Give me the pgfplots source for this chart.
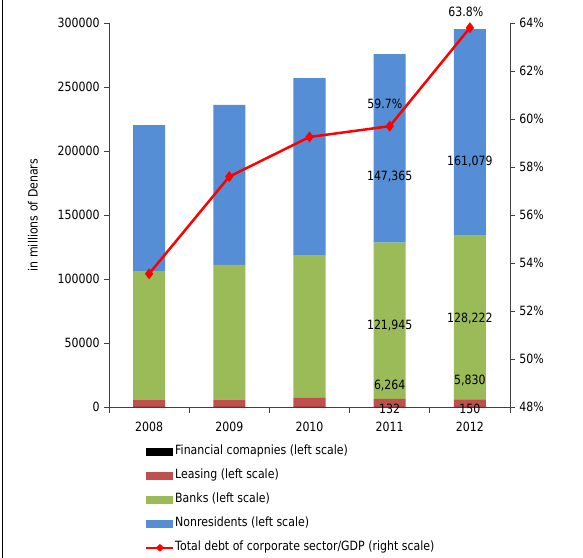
\documentclass[border=0pt]{standalone}
\usepackage{fontspec}
\setmainfont{DejaVu Sans}[FakeStretch=0.86]
\usepackage{pgfplots}
\pgfplotsset{compat=1.18}
\definecolor{cBlue}{HTML}{558ED5}
\definecolor{cGreen}{HTML}{9BBB59}
\definecolor{cRed}{HTML}{C0504D}
\definecolor{axc}{HTML}{404040}
\begin{document}
\fontsize{12.8}{14}\selectfont
\begin{tikzpicture}[x=1bp,y=1bp,font=\fontsize{12.8}{14}\selectfont]
\useasboundingbox (-109,-151) rectangle (474,407);
\draw[line width=1.5bp, black] (-106.5,-151) -- (-106.5,407);
\begin{axis}[
  at={(0,0)}, anchor=south west, scale only axis,
  width=401bp, height=384bp,
  xmin=-0.5, xmax=4.5, ymin=0, ymax=300000,
  ybar stacked, bar width=0.4,
  legend image code/.code={\fill[#1] (0bp,-4bp) rectangle (27bp,4bp);},
  axis x line=bottom, axis y line=left,
  axis line style={-, axc, line width=0.8bp},
  tick align=outside, major tick length=5bp, minor tick length=6bp,
  tick style={axc, line width=0.8bp},
  xtick={0,1,2,3,4}, xticklabels={2008,2009,2010,2011,2012},
  xticklabel style={yshift=-6bp},
  major x tick style={draw=none},
  minor xtick={-0.5,0.5,1.5,2.5,3.5,4.5},
  ytick={0,50000,100000,150000,200000,250000,300000},
  yticklabels={0,50000,100000,150000,200000,250000,300000},
  scaled y ticks=false,
  clip=false,
  legend style={draw=none, fill=none, at={(rel axis cs:0.0898,-0.085)}, anchor=north west,
    inner sep=0pt, row sep=0pt,
    nodes={inner sep=1bp, inner xsep=0.5bp, text height=14bp, text depth=8bp, anchor=west},
    /tikz/every odd column/.append style={column sep=0bp}},
  legend cell align=left,
]
\addplot[fill=black, draw=none] coordinates {(0,100) (1,100) (2,110) (3,132) (4,150)};
\addlegendentry{Financial comapnies (left scale)}
\addplot[fill=cRed, draw=none] coordinates {(0,5200) (1,5600) (2,7000) (3,6264) (4,5830)};
\addlegendentry{Leasing (left scale)}
\addplot[fill=cGreen, draw=none] coordinates {(0,100900) (1,105300) (2,111600) (3,121945) (4,128222)};
\addlegendentry{Banks (left scale)}
\addplot[fill=cBlue, draw=none] coordinates {(0,114000) (1,125000) (2,138300) (3,147365) (4,161079)};
\addlegendentry{Nonresidents (left scale)}
\addlegendimage{legend image code/.code={\draw[red, line width=2.5bp] (0bp,0bp) -- (27bp,0bp); \fill[red] (13.5bp,0bp) +(-4bp,0bp) -- +(0bp,3.5bp) -- +(4bp,0bp) -- +(0bp,-3.5bp) -- cycle;}}
\addlegendentry{Total debt of corporate sector/GDP (right scale)}
\node[rotate=90] at (rel axis cs:-0.19,0.5) {in millions of Denars};
\end{axis}
\begin{axis}[
  at={(0,0)}, anchor=south west, scale only axis,
  width=401bp, height=384bp,
  xmin=-0.5, xmax=4.5, ymin=48, ymax=64,
  axis y line*=right, axis x line=none,
  axis line style={-, axc, line width=0.8bp},
  tick align=outside, major tick length=5bp,
  tick style={axc, line width=0.8bp},
  ytick={48,50,52,54,56,58,60,62,64},
  yticklabels={48\%,50\%,52\%,54\%,56\%,58\%,60\%,62\%,64\%},
  clip=false,
]
\addplot[red, line width=2.5bp, mark=diamond*, mark size=3.5bp, mark options={fill=red, solid}] coordinates {(0,53.55) (1,57.6) (2,59.25) (3,59.7) (4,63.8)};
\node at (axis cs:3,57.584) {147,365};
\node at (axis cs:3,51.376) {121,945};
\node at (axis cs:3,48.875) {6,264};
\node at (axis cs:3,47.92) {132};
\node at (axis cs:4,58.208) {161,079};
\node at (axis cs:4,51.707) {128,222};
\node at (axis cs:4,49.083) {5,830};
\node at (axis cs:4,47.92) {150};
\node at (axis cs:2.94,60.624) {59.7\%};
\node at (axis cs:3.95,64.459) {63.8\%};
\end{axis}
\end{tikzpicture}
\end{document}
